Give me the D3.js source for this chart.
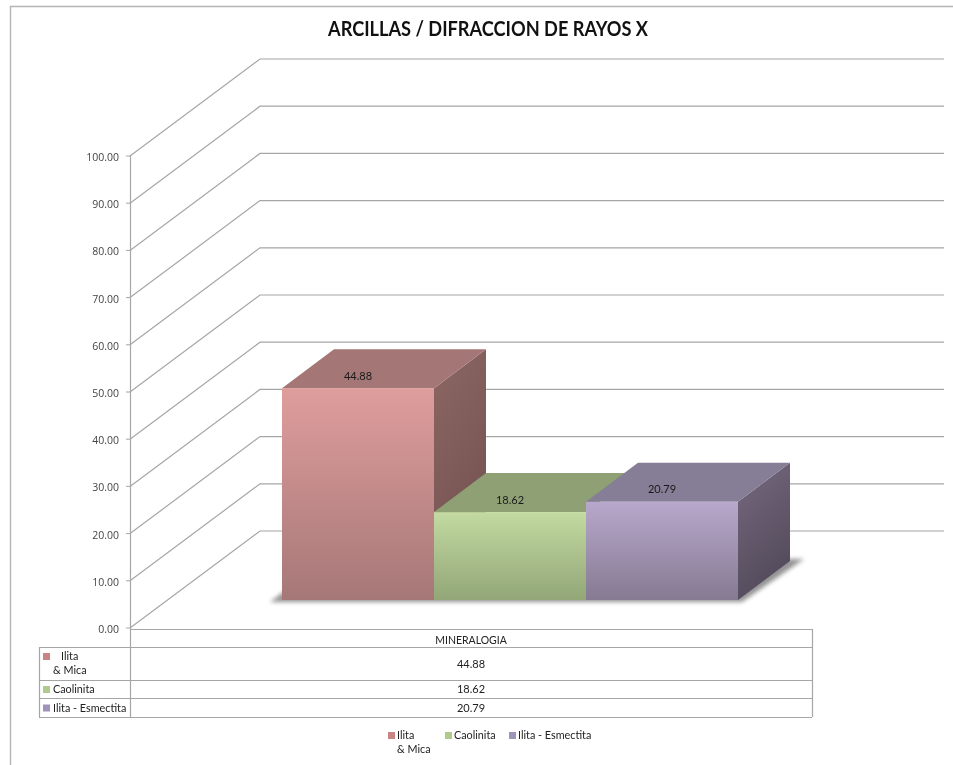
<!DOCTYPE html>
<html>
<head>
<meta charset="utf-8">
<script src="https://cdn.jsdelivr.net/npm/d3@7/dist/d3.min.js"></script>
<style>
html,body{margin:0;padding:0;background:#fff;overflow:hidden}
svg{display:block;filter:blur(0.35px)}
text{font-family:Lato,"Open Sans",sans-serif;fill:#222}
</style>
</head>
<body>
<svg id="c" width="953" height="765"></svg>
<script>
const chartTitle = "ARCILLAS / DIFRACCION DE RAYOS X";
const groupName = "MINERALOGIA";
const seriesNames = [["Ilita", "& Mica"], ["Caolinita"], ["Ilita - Esmectita"]];
const seriesKeys = ["Ilita & Mica", "Caolinita", "Ilita - Esmectita"];
const seriesValues = [44.88, 18.62, 20.79];
const tickValues = [0, 10, 20, 30, 40, 50, 60, 70, 80, 90, 100];

const frontTop = ["#df9d9d", "#c3daa1", "#b8a8cc"];
const frontBot = ["#a67777", "#92a677", "#857a92"];
const topCol = ["#a57676", "#8fa174", "#867d96"];
const sideTop = ["#8c6764", "#000", "#76697f"];
const sideBot = ["#73514f", "#000", "#534b5b"];
const swatch = ["#c98585", "#b0c98c", "#a093bb"];

const svg = d3.select("#c");
const defs = svg.append("defs");
const y = d3.scaleLinear().domain([0, 100]).range([628, 156]);
const x = d3.scaleBand().domain(seriesKeys).range([282, 738]).padding(0);
const wall = {dx: 130, dy: -97, right: 944};
const box = {dx: 52, dy: -39, lift: 28};
const grey = "#a6a6a6";

seriesKeys.forEach((k, i) => {
  const f = defs.append("linearGradient").attr("id", "f" + i).attr("x1", 0).attr("x2", 0).attr("y1", 0).attr("y2", 1);
  f.append("stop").attr("offset", 0).attr("stop-color", frontTop[i]);
  f.append("stop").attr("offset", 1).attr("stop-color", frontBot[i]);
  const s = defs.append("linearGradient").attr("id", "s" + i).attr("x1", 0).attr("x2", 0.35).attr("y1", 0).attr("y2", 1);
  s.append("stop").attr("offset", 0).attr("stop-color", sideTop[i]);
  s.append("stop").attr("offset", 1).attr("stop-color", sideBot[i]);
});
defs.append("filter").attr("id", "blur").attr("x", "-10%").attr("y", "-30%").attr("width", "120%").attr("height", "160%")
  .append("feGaussianBlur").attr("stdDeviation", 2);

// outer frame
svg.append("path").attr("d", "M10.5,765V6.5H953").attr("fill", "none").attr("stroke", "#b5b5b5").attr("stroke-width", 1.4);

// title
svg.append("text").attr("x", 488).attr("y", 36).attr("text-anchor", "middle")
  .attr("font-size", 20.5).attr("font-weight", 700).attr("textLength", 320).attr("lengthAdjust", "spacingAndGlyphs")
  .style("fill", "#111").text(chartTitle);

// walls and gridlines
const x0 = 130;
svg.append("g").selectAll("path").data(tickValues).join("path")
  .attr("d", d => `M${x0},${y(d)}L${x0 + wall.dx},${y(d) + wall.dy}H${wall.right}`)
  .attr("fill", "none").attr("stroke", grey).attr("stroke-width", 1.2);

// y axis
svg.append("path").attr("d", `M${x0 + .5},${y(100)}V717`).attr("stroke", grey).attr("stroke-width", 1.2);
const ax = svg.append("g");
ax.selectAll("line").data(tickValues).join("line")
  .attr("x1", x0 - 4).attr("x2", x0).attr("y1", d => y(d)).attr("y2", d => y(d)).attr("stroke", grey);
ax.selectAll("text").data(tickValues).join("text")
  .attr("x", 119).attr("y", d => y(d) + 5).attr("text-anchor", "end").attr("font-size", 10.5)
  .style("font-family", "'Open Sans',sans-serif").style("fill", "#444").text(d => d3.format(".2f")(d));

// shadow
const base = y(0) - box.lift;
const xL = x(seriesKeys[0]), xR = x(seriesKeys[2]) + x.bandwidth();
svg.append("path")
  .attr("d", `M${xL - 12},${base + 2}L${xL + 46},${base - 41}H${xR + box.dx + 14}L${xR + 4},${base + 2}Z`)
  .attr("fill", "#666").attr("opacity", .7).attr("filter", "url(#blur)");

// bars
const bars = svg.append("g").selectAll("g").data(seriesValues).join("g");
bars.each(function(v, i) {
  const g = d3.select(this);
  const a = x(seriesKeys[i]), b = a + x.bandwidth();
  const t = y(v) - box.lift;
  if (i !== 1) {
    g.append("path").attr("d", `M${b},${t}L${b + box.dx},${t + box.dy}V${base + box.dy}L${b},${base}Z`)
      .attr("fill", `url(#s${i})`);
  }
  g.append("path").attr("d", `M${a},${t}L${a + box.dx},${t + box.dy}H${b + box.dx}L${b},${t}Z`).attr("fill", topCol[i]);
  g.append("rect").attr("x", a).attr("y", t).attr("width", x.bandwidth()).attr("height", base - t).attr("fill", `url(#f${i})`);
  g.append("text").attr("x", (a + b) / 2).attr("y", t - 8.5).attr("text-anchor", "middle")
    .attr("font-size", 11).style("fill", "#1a1a1a").text(d3.format(".2f")(v));
});

// data table
const tbl = {left: 39, mid: 130, right: 812, rows: [629, 647, 680, 698, 717]};
const tg = svg.append("g").attr("stroke", grey).attr("stroke-width", 1.2);
tg.selectAll("line.h").data(tbl.rows).join("line")
  .attr("x1", (d, i) => i === 0 ? tbl.mid : tbl.left).attr("x2", tbl.right)
  .attr("y1", d => d + .5).attr("y2", d => d + .5);
tg.append("line").attr("x1", tbl.left + .5).attr("x2", tbl.left + .5).attr("y1", tbl.rows[1]).attr("y2", tbl.rows[4]);
tg.append("line").attr("x1", tbl.right + .5).attr("x2", tbl.right + .5).attr("y1", tbl.rows[0]).attr("y2", tbl.rows[4]);

const midX = (tbl.mid + tbl.right) / 2;
svg.append("text").attr("x", midX).attr("y", 644).attr("text-anchor", "middle").attr("font-size", 10.5).text(groupName);
seriesValues.forEach((v, i) => {
  const cy = (tbl.rows[i + 1] + tbl.rows[i + 2]) / 2;
  svg.append("text").attr("x", midX).attr("y", cy + 4).attr("text-anchor", "middle").attr("font-size", 11).text(d3.format(".2f")(v));
  svg.append("rect").attr("x", 43).attr("y", i === 0 ? 653 : cy - 3).attr("width", 7).attr("height", 7).attr("fill", swatch[i]);
  const lines = seriesNames[i];
  lines.forEach((l, j) => {
    svg.append("text").attr("x", lines.length > 1 && j === 0 ? 61 : 53)
      .attr("y", lines.length > 1 ? 660 + j * 14 : cy + 4).attr("font-size", 10.8).text(l);
  });
});

// legend
const legendX = [388, 445, 509];
seriesNames.forEach((lines, i) => {
  svg.append("rect").attr("x", legendX[i]).attr("y", 732).attr("width", 7).attr("height", 7).attr("fill", swatch[i]);
  lines.forEach((l, j) => {
    svg.append("text").attr("x", legendX[i] + 9).attr("y", 739 + j * 14).attr("font-size", 10.8).text(l);
  });
});
</script>
</body>
</html>
